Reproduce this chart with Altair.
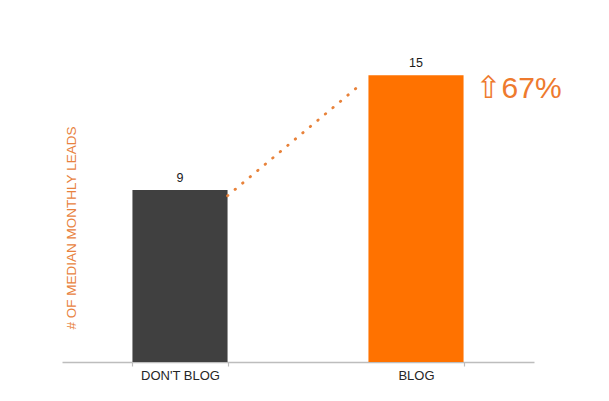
import altair as alt
import pandas as pd

categories = ["DON'T BLOG", "BLOG"]
leads = [9, 15]
bar_colors = ["#404040", "#FF7200"]
connector_from = ["DON'T BLOG"]
connector_to = ["BLOG"]
connector_y = [8.7]
connector_y2 = [14.6]
change_arrow = ["⇧"]
change_text = ["67%"]
y_title = "# OF MEDIAN MONTHLY LEADS"

FONT = "Liberation Sans"

bars_df = pd.DataFrame({"category": categories, "leads": leads, "color": bar_colors})
conn_df = pd.DataFrame({"src": connector_from, "dst": connector_to,
                        "y1": connector_y, "y2": connector_y2})
ann_df = pd.DataFrame({"category": connector_to, "leads": [leads[1]],
                       "arrow": change_arrow, "text": change_text})

xscale = alt.Scale(domain=categories, paddingInner=0.597, paddingOuter=0.2985)
yscale = alt.Scale(domain=[0, 18], nice=False)

xaxis = alt.Axis(title=None, labelAngle=0, labelFont=FONT, labelFontSize=13,
                 labelColor="#262626", domainColor="#bdbdbd", domainWidth=1.5,
                 tickColor="#bdbdbd", tickSize=4, tickWidth=1.2, tickBand="extent",
                 labelPadding=3, grid=False)
yaxis = alt.Axis(title=y_title, domain=False, ticks=False, labels=False, grid=False,
                 titleFont=FONT, titleFontSize=13.5, titleFontWeight="normal",
                 titleColor="#E8823E", titleAngle=270, titleX=13, titleY=209.5,
                 titleAlign="center", titleBaseline="alphabetic")

base = alt.Chart(bars_df)

bars = base.mark_bar().encode(
    x=alt.X("category:N", scale=xscale, axis=xaxis, sort=categories),
    y=alt.Y("leads:Q", scale=yscale, axis=yaxis),
    color=alt.Color("color:N", scale=None, legend=None),
)

labels = base.mark_text(font=FONT, fontSize=12.5, color="#1a1a1a",
                        baseline="alphabetic", dy=-8).encode(
    x=alt.X("category:N", scale=xscale, sort=categories),
    y=alt.Y("leads:Q", scale=yscale),
    text=alt.Text("leads:Q"),
)

connector = alt.Chart(conn_df).mark_rule(
    color="#E8823A", strokeWidth=2.8, strokeDash=[0.5, 9.3], strokeCap="round",
    x2Offset=-6,
).encode(
    x=alt.X("src:N", scale=xscale, bandPosition=1),
    x2=alt.X2("dst", bandPosition=0),
    y=alt.Y("y1:Q", scale=yscale),
    y2=alt.Y2("y2"),
)

arrow = alt.Chart(ann_df).mark_text(
    font="DejaVu Sans", fontSize=31, color="#EE7A2E", align="center",
    baseline="alphabetic", dx=25, dy=23,
).encode(
    x=alt.X("category:N", scale=xscale, bandPosition=1),
    y=alt.Y("leads:Q", scale=yscale),
    text="arrow:N",
)

pct = alt.Chart(ann_df).mark_text(
    font=FONT, fontSize=30, color="#EE7A2E", align="left",
    baseline="alphabetic", dx=38, dy=23,
).encode(
    x=alt.X("category:N", scale=xscale, bandPosition=1),
    y=alt.Y("leads:Q", scale=yscale),
    text="text:N",
)

chart = alt.layer(bars, connector, labels, arrow, pct).properties(
    width=472, height=344,
    autosize=alt.AutoSizeParams(type="none"),
    padding={"left": 54, "top": 10, "right": 60, "bottom": 30},
    background="white",
).configure_view(stroke=None)

chart.save("out.html", embed_options={"renderer": "svg", "actions": False})
